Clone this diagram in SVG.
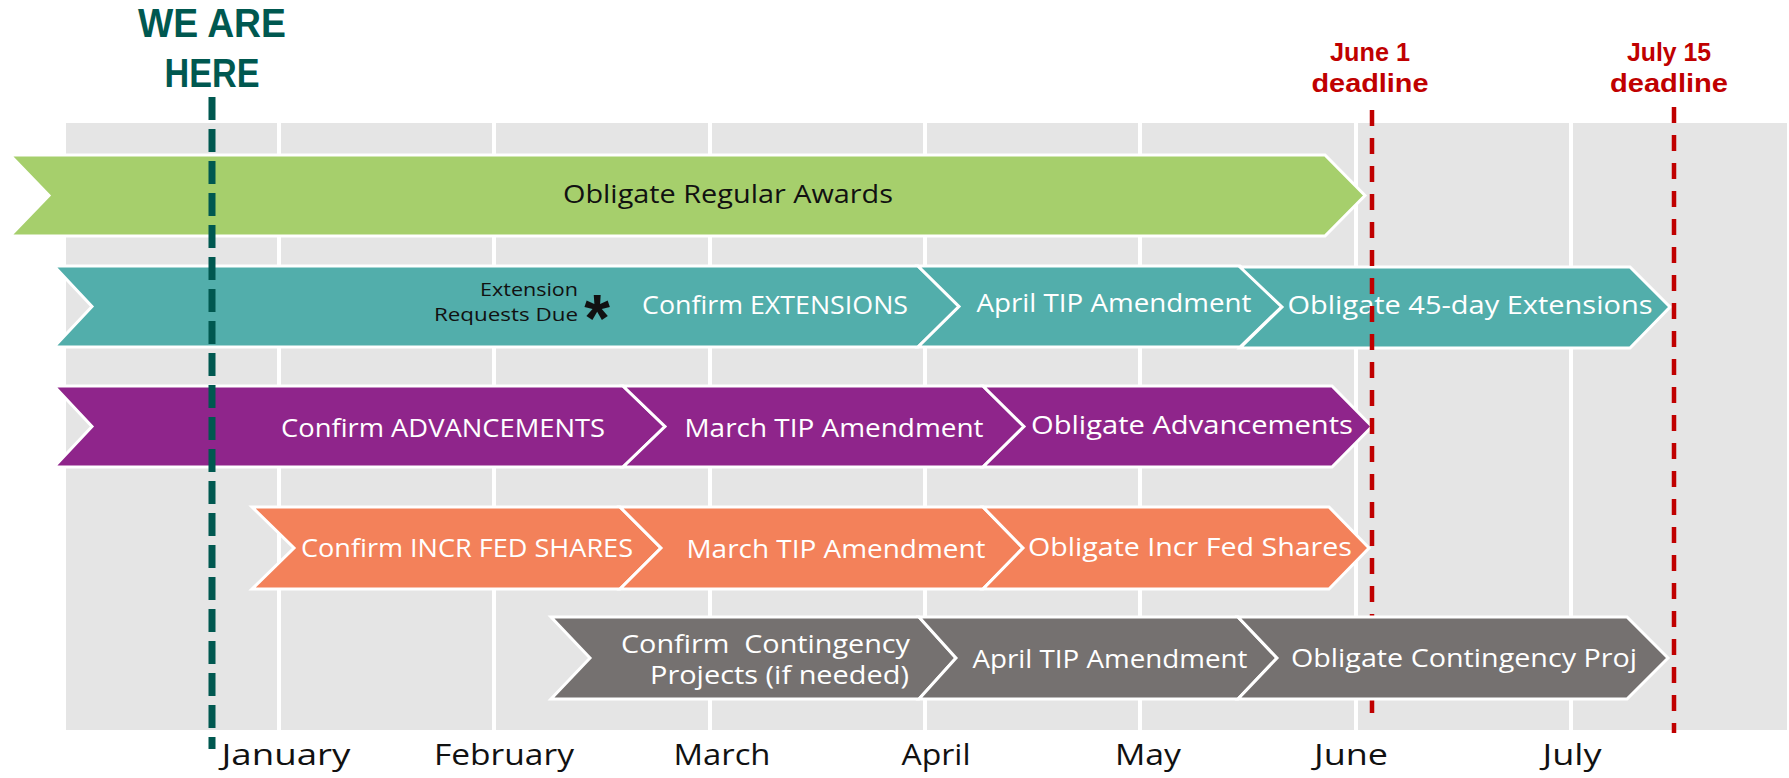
<svg xmlns="http://www.w3.org/2000/svg" width="1789" height="778" viewBox="0 0 1789 778">
<style>
.bg{fill:#E5E5E5}
.grid{stroke:#FFFFFF;stroke-width:4}
.arr{stroke:#FFFFFF;stroke-width:3;stroke-linejoin:miter}
.green{fill:#A6CF6C}
.teal{fill:#52AEAB}
.purple{fill:#8F258B}
.orange{fill:#F3815A}
.gray{fill:#757170}
.lbl{font-family:"Open Sans","Noto Sans",sans-serif;font-size:25px;fill:#FFFFFF;text-anchor:middle}
.dark{fill:#111111}
.small{font-family:"Open Sans","Noto Sans",sans-serif;font-size:19px;fill:#111111;text-anchor:end}
.month{font-family:"Open Sans","Noto Sans",sans-serif;font-size:29px;fill:#111111;text-anchor:middle}
.dl{font-family:"Liberation Sans",Arial,sans-serif;font-size:26px;font-weight:700;fill:#C00000;text-anchor:middle}
.here{font-family:"Liberation Sans",Arial,sans-serif;font-size:40px;font-weight:700;fill:#005850;text-anchor:middle}
.reddash{stroke:#C00000;stroke-width:4.5;stroke-dasharray:16 12;fill:none}
.tealdash{stroke:#005850;stroke-width:7;stroke-dasharray:23 9;fill:none}
</style>

<g id="background">
<rect class="bg" x="66" y="123" width="1721" height="607"/>
<g id="gridlines">
<line class="grid" x1="279" y1="123" x2="279" y2="730"/>
<line class="grid" x1="494" y1="123" x2="494" y2="730"/>
<line class="grid" x1="710" y1="123" x2="710" y2="730"/>
<line class="grid" x1="925" y1="123" x2="925" y2="730"/>
<line class="grid" x1="1140" y1="123" x2="1140" y2="730"/>
<line class="grid" x1="1356" y1="123" x2="1356" y2="730"/>
<line class="grid" x1="1571" y1="123" x2="1571" y2="730"/>
</g>
</g>

<g id="months">
<text class="month" x="286" y="765" textLength="129" lengthAdjust="spacingAndGlyphs">January</text>
<text class="month" x="504" y="765" textLength="140" lengthAdjust="spacingAndGlyphs">February</text>
<text class="month" x="722" y="765" textLength="97" lengthAdjust="spacingAndGlyphs">March</text>
<text class="month" x="936" y="765" textLength="69" lengthAdjust="spacingAndGlyphs">April</text>
<text class="month" x="1148" y="765" textLength="66" lengthAdjust="spacingAndGlyphs">May</text>
<text class="month" x="1351" y="765" textLength="74" lengthAdjust="spacingAndGlyphs">June</text>
<text class="month" x="1572" y="765" textLength="59" lengthAdjust="spacingAndGlyphs">July</text>
</g>

<g id="regular-awards">
<polygon class="arr green" points="10,155 1325,155 1365,195.5 1325,236 10,236 49,195.5"/>
<text class="lbl dark" x="728" y="203" font-size="27" textLength="330" lengthAdjust="spacingAndGlyphs">Obligate Regular Awards</text>
</g>

<g id="extensions">
<polygon class="arr teal" points="54,266 918,266 959,306.5 918,347 54,347 92,306.5"/>
<polygon class="arr teal" points="918,266 1240,266 1282,306.5 1240,347 918,347 959,306.5"/>
<polygon class="arr teal" points="1240,267 1630,267 1670,307 1630,348 1240,348 1282,307"/>
<text class="small" x="578" y="296" textLength="98" lengthAdjust="spacingAndGlyphs">Extension</text>
<text class="small" x="578" y="321" textLength="144" lengthAdjust="spacingAndGlyphs">Requests Due</text>
<text x="597" y="341" font-family="'Liberation Sans',Arial,sans-serif" font-size="66" font-weight="700" fill="#111111" text-anchor="middle">*</text>
<text class="lbl" x="775" y="314" textLength="266" lengthAdjust="spacingAndGlyphs">Confirm EXTENSIONS</text>
<text class="lbl" x="1114" y="312" textLength="275" lengthAdjust="spacingAndGlyphs">April TIP Amendment</text>
<text class="lbl" x="1470" y="314" textLength="365" lengthAdjust="spacingAndGlyphs">Obligate 45-day Extensions</text>
</g>

<g id="advancements">
<polygon class="arr purple" points="54,386 623,386 665,426.5 623,467 54,467 92,426.5"/>
<polygon class="arr purple" points="623,386 983,386 1024,426.5 983,467 623,467 665,426.5"/>
<polygon class="arr purple" points="983,386 1332,386 1372,426.5 1332,467 983,467 1024,426.5"/>
<text class="lbl" x="443" y="437" textLength="324" lengthAdjust="spacingAndGlyphs">Confirm ADVANCEMENTS</text>
<text class="lbl" x="834" y="437" textLength="299" lengthAdjust="spacingAndGlyphs">March TIP Amendment</text>
<text class="lbl" x="1192" y="434" textLength="322" lengthAdjust="spacingAndGlyphs">Obligate Advancements</text>
</g>

<g id="fed-shares">
<polygon class="arr orange" points="252,507 620,507 661,548 620,589 252,589 294,548"/>
<polygon class="arr orange" points="620,507 983,507 1023,548 983,589 620,589 661,548"/>
<polygon class="arr orange" points="983,507 1329,507 1369,548 1329,589 983,589 1023,548"/>
<text class="lbl" x="467" y="557" textLength="332" lengthAdjust="spacingAndGlyphs">Confirm INCR FED SHARES</text>
<text class="lbl" x="836" y="558" textLength="299" lengthAdjust="spacingAndGlyphs">March TIP Amendment</text>
<text class="lbl" x="1190" y="556" textLength="324" lengthAdjust="spacingAndGlyphs">Obligate Incr Fed Shares</text>
</g>

<g id="june-deadline">
<line class="reddash" x1="1372" y1="110" x2="1372" y2="713"/>
<text class="dl" x="1370" y="61" textLength="80" lengthAdjust="spacingAndGlyphs">June 1</text>
<text class="dl" x="1370" y="92" textLength="117" lengthAdjust="spacingAndGlyphs">deadline</text>
</g>

<g id="contingency">
<polygon class="arr gray" points="551,617 919,617 956,658 919,699 551,699 590,658"/>
<polygon class="arr gray" points="919,617 1238,617 1277,658 1238,699 919,699 956,658"/>
<polygon class="arr gray" points="1238,617 1627,617 1668,658 1627,699 1238,699 1277,658"/>
<text class="lbl" x="910" y="653" style="text-anchor:end" textLength="289" lengthAdjust="spacingAndGlyphs" xml:space="preserve">Confirm  Contingency</text>
<text class="lbl" x="909" y="684" style="text-anchor:end" textLength="259" lengthAdjust="spacingAndGlyphs">Projects (if needed)</text>
<text class="lbl" x="1110" y="668" textLength="275" lengthAdjust="spacingAndGlyphs">April TIP Amendment</text>
<text class="lbl" x="1464" y="667" textLength="346" lengthAdjust="spacingAndGlyphs">Obligate Contingency Proj</text>
</g>

<g id="july-deadline">
<line class="reddash" x1="1674" y1="107" x2="1674" y2="733"/>
<text class="dl" x="1669" y="61" textLength="84" lengthAdjust="spacingAndGlyphs">July 15</text>
<text class="dl" x="1669" y="92" textLength="118" lengthAdjust="spacingAndGlyphs">deadline</text>
</g>

<g id="we-are-here">
<line class="tealdash" x1="212" y1="97" x2="212" y2="749"/>
<text class="here" x="212" y="37" textLength="148" lengthAdjust="spacingAndGlyphs">WE ARE</text>
<text class="here" x="212" y="87" textLength="95" lengthAdjust="spacingAndGlyphs">HERE</text>
</g>
</svg>
